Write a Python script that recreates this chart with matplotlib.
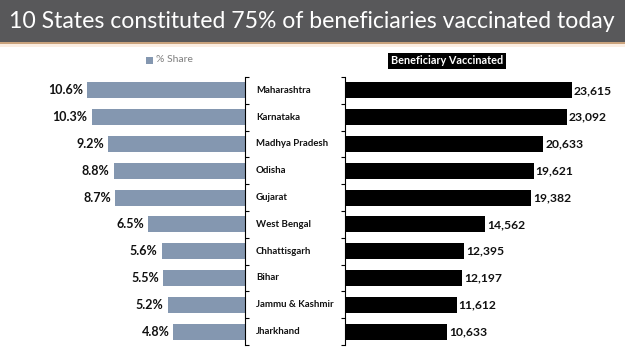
import matplotlib
matplotlib.use("Agg")
import matplotlib.pyplot as plt
from matplotlib.patches import Rectangle
from matplotlib.transforms import blended_transform_factory

states = ["Maharashtra", "Karnataka", "Madhya Pradesh", "Odisha", "Gujarat",
          "West Bengal", "Chhattisgarh", "Bihar", "Jammu & Kashmir", "Jharkhand"]
share = [10.6, 10.3, 9.2, 8.8, 8.7, 6.5, 5.6, 5.5, 5.2, 4.8]
vaccinated = [23615, 23092, 20633, 19621, 19382, 14562, 12395, 12197, 11612, 10633]
title = "10 States constituted 75% of beneficiaries vaccinated today"

W, H = 625, 351
fig = plt.figure(figsize=(W / 100, H / 100), dpi=100)
fig.patch.set_facecolor("white")

def fx(px):
    return px / W

def fy(py):
    return 1 - py / H

# title bar
fig.patches.append(Rectangle((0, fy(42)), 1, 42 / H, transform=fig.transFigure,
                             facecolor="#58585a", edgecolor="none", zorder=0))
fig.patches.append(Rectangle((0, fy(44)), 1, 2 / H, transform=fig.transFigure,
                             facecolor="#c9a27c", edgecolor="none", zorder=0))
fig.patches.append(Rectangle((0, fy(47)), 1, 3 / H, transform=fig.transFigure,
                             facecolor="#fbeee3", edgecolor="none", zorder=0))
ttl = fig.text(fx(9), fy(21), title, color="white", fontsize=16, family="Lato",
               ha="left", va="center")
renderer = fig.canvas.get_renderer()
w = ttl.get_window_extent(renderer).width
ttl.set_fontsize(16 * 609 / w)

bar_color = "#8497b0"
y = list(range(len(states)))
bot, top = 345, 77

axL = fig.add_axes([fx(40), fy(bot), fx(245) - fx(40), (bot - top) / H])
axL.barh(y, share, height=0.6, color=bar_color)
axL.set_xlim(205 / 14.9, 0)
axL.set_ylim(9.5, -0.5)

axR = fig.add_axes([fx(345), fy(bot), fx(620) - fx(345), (bot - top) / H])
axR.barh(y, vaccinated, height=0.6, color="black")
axR.set_xlim(0, 275 / 0.00961)
axR.set_ylim(9.5, -0.5)

bounds = [i - 0.5 for i in range(len(states) + 1)]
for ax, side in ((axL, "right"), (axR, "left")):
    for s in ax.spines.values():
        s.set_visible(False)
    ax.spines[side].set_visible(True)
    ax.spines[side].set_linewidth(0.8)
    ax.set_xticks([])
    ax.set_yticks(bounds)
    ax.set_yticklabels([])
    ax.patch.set_alpha(0)
axL.yaxis.tick_right()
axL.tick_params(axis="y", direction="out", length=3, width=0.8, right=True, left=False)
axR.tick_params(axis="y", direction="out", length=3, width=0.8, left=True, right=False)

for i, v in enumerate(share):
    axL.annotate(f"{v:.1f}%", (v, i), xytext=(-3, 0), textcoords="offset points",
                 ha="right", va="center", fontsize=9, fontweight="bold",
                 family="Lato", color="#111111")
for i, v in enumerate(vaccinated):
    axR.annotate(f"{v:,}", (v, i), xytext=(1.5, 0), textcoords="offset points",
                 ha="left", va="center", fontsize=8.7, fontweight="bold",
                 family="Lato", color="#111111")

tr = blended_transform_factory(fig.transFigure, axL.transData)
for i, s in enumerate(states):
    fig.text(fx(256), i, s, transform=tr, ha="left", va="center",
             fontsize=6.9, fontweight="bold", family="Lato", color="#111111")

# legends
fig.patches.append(Rectangle((fx(146), fy(64)), 7 / W, 7 / H, transform=fig.transFigure,
                             facecolor=bar_color, edgecolor="none"))
fig.text(fx(156), fy(60), "% Share", ha="left", va="center", fontsize=7.5,
         family="Lato", color="#7f7f7f")
fig.text(fx(391), fy(61), "Beneficiary Vaccinated", ha="left", va="center",
         fontsize=7.8, fontweight="bold", family="Lato", color="white",
         bbox=dict(boxstyle="square,pad=0.25", facecolor="black", edgecolor="none"))

fig.savefig("out.png", dpi=100)
